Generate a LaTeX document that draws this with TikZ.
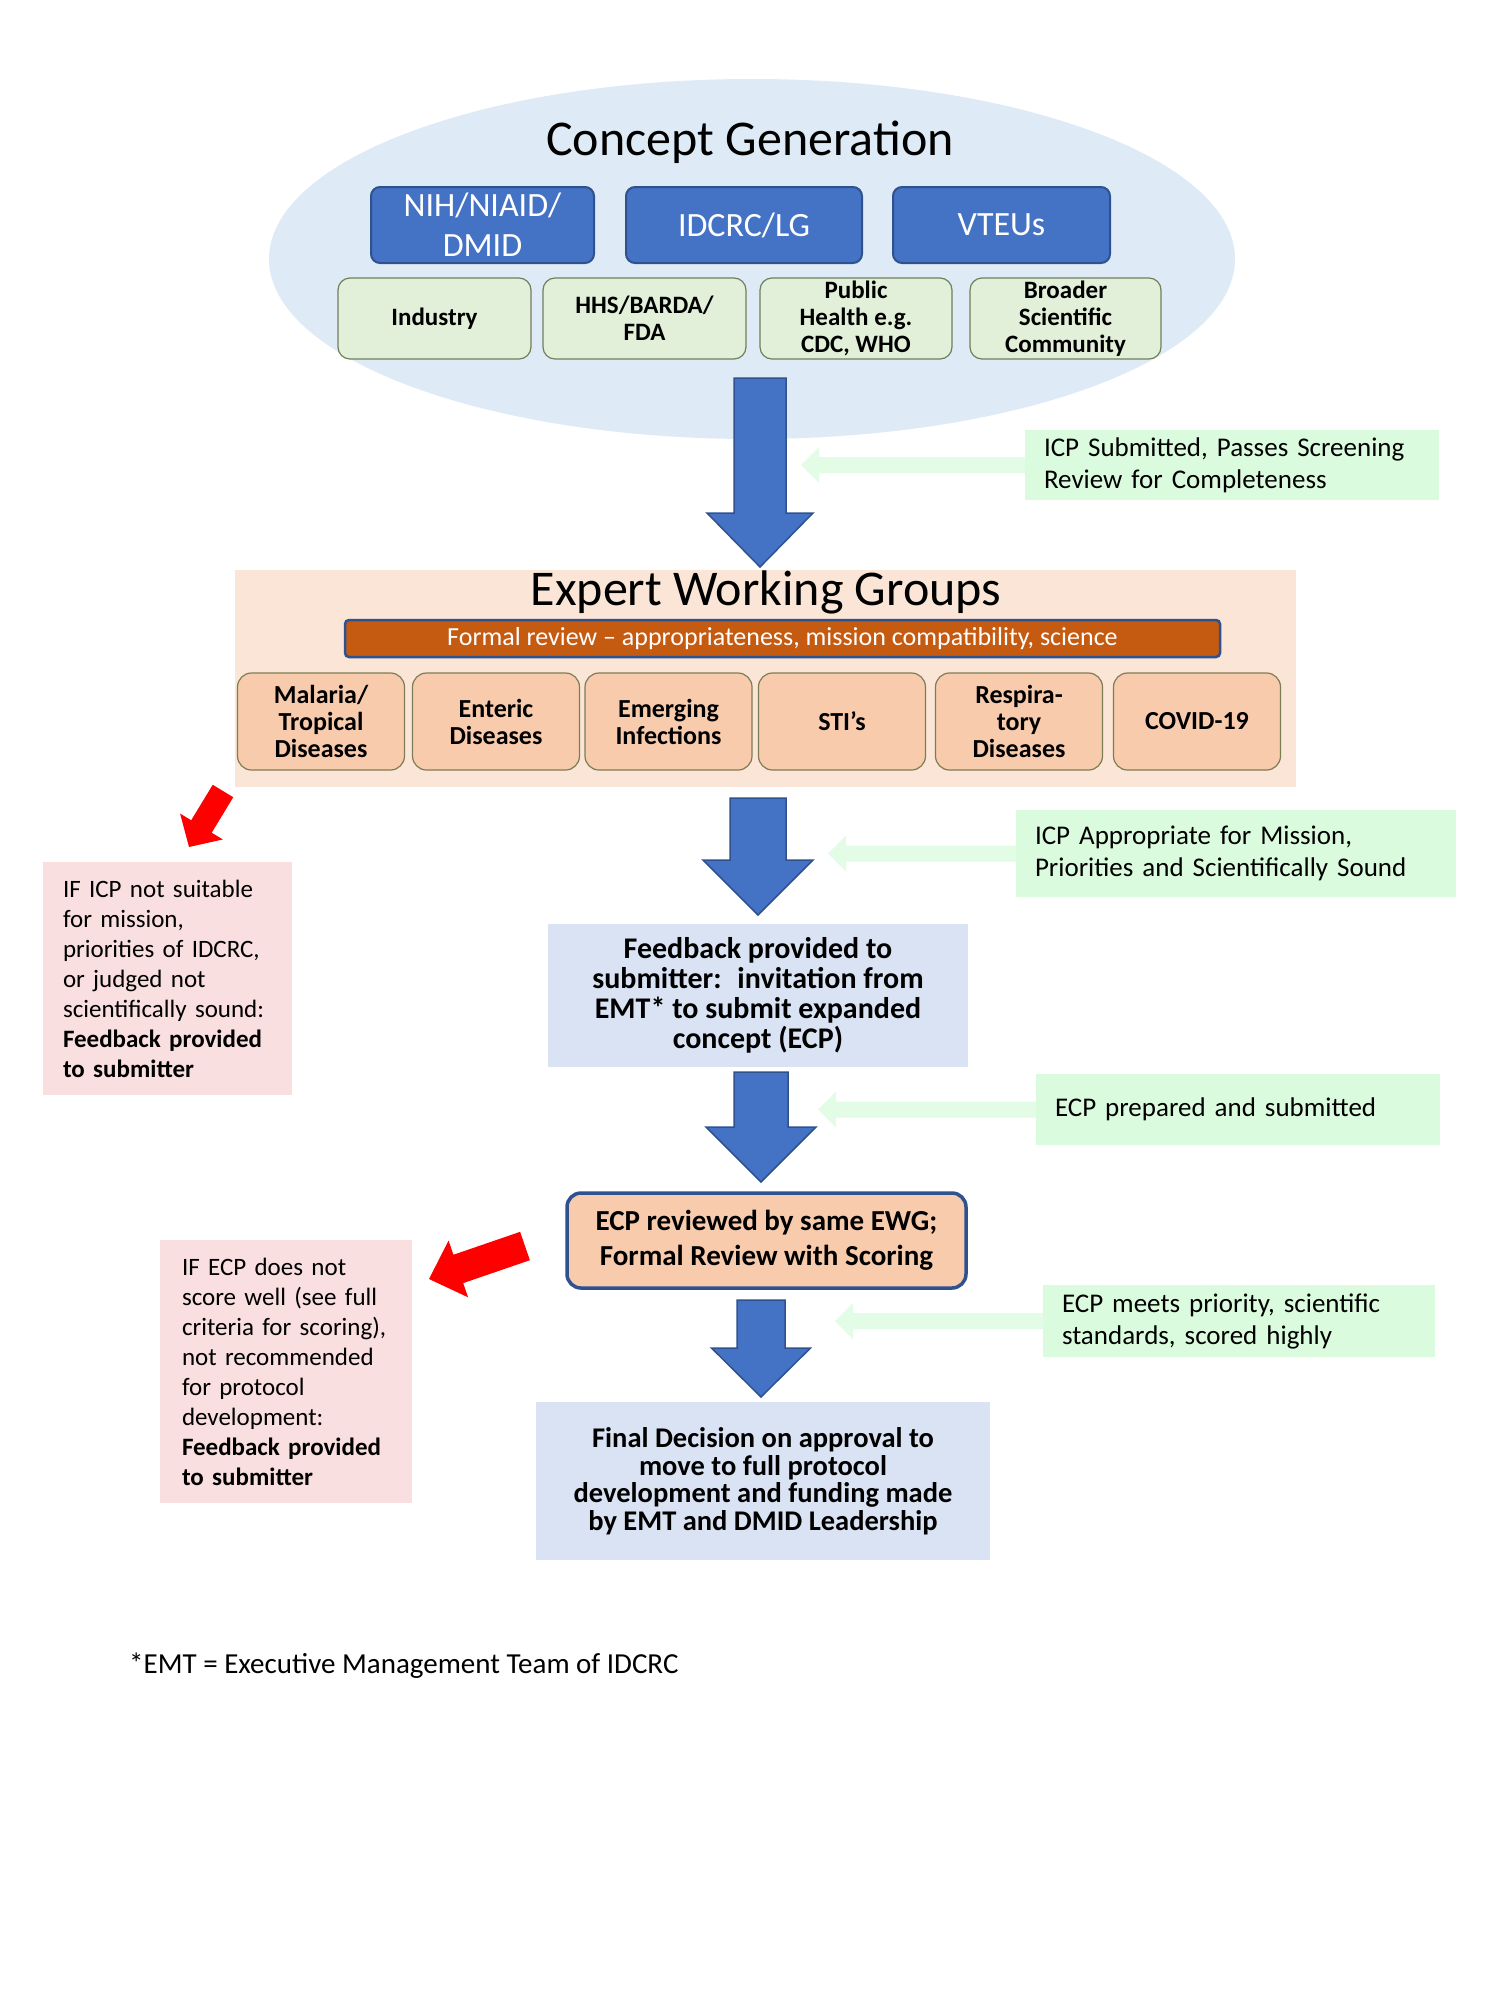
\documentclass[tikz,border=0pt]{standalone}
\usepackage{fontspec}
\setmainfont{Carlito}
\usetikzlibrary{calc,shapes.geometric}
\definecolor{cEll}{HTML}{DEEBF7}
\definecolor{cBlue}{HTML}{4472C4}
\definecolor{cBlueD}{HTML}{2F528F}
\definecolor{cGreen}{HTML}{E2F0D9}
\definecolor{cGreenD}{HTML}{6E7F5A}
\definecolor{cPeachBg}{HTML}{FBE5D6}
\definecolor{cPeach}{HTML}{F8CBAD}
\definecolor{cPeachD}{HTML}{7D7D55}
\definecolor{cOrange}{HTML}{C55A11}
\definecolor{cMint}{HTML}{DBFBDE}
\definecolor{cMintA}{HTML}{E3FCE6}
\definecolor{cPink}{HTML}{F9DFDF}
\definecolor{cLBlue}{HTML}{DAE3F3}
\newcommand{\fatarrow}[6]{%
  \coordinate (fahead) at ($(#3)!#6pt!(#2)$);
  \path[#1] ($(#2)!#4pt!90:(#3)$) -- ($(fahead)!#4pt!90:(#3)$) -- ($(fahead)!#5pt!90:(#3)$) -- (#3)
    -- ($(fahead)!#5pt!-90:(#3)$) -- ($(fahead)!#4pt!-90:(#3)$) -- ($(#2)!#4pt!-90:(#3)$) -- cycle;
}
\tikzset{
  bluebox/.style={rounded corners=9, fill=cBlue, draw=cBlueD, line width=2, text=white, font=\fontsize{34}{40}\selectfont, align=center, inner sep=0},
  greenbox/.style={rounded corners=12, fill=cGreen, draw=cGreenD, line width=1.2, font=\bfseries\fontsize{25}{27}\selectfont, align=center, inner sep=0},
  peachbox/.style={rounded corners=14, fill=cPeach, draw=cPeachD, line width=1.2, font=\bfseries\fontsize{26}{27}\selectfont, align=center, inner sep=0, minimum width=167, minimum height=97},
  mintbox/.style={fill=cMint, inner xsep=19, inner ysep=0, align=left, font=\fontsize{27}{32}\selectfont},
  pinkbox/.style={fill=cPink, inner xsep=20, inner ysep=0, align=left, font=\fontsize{25}{30}\selectfont},
  lbbox/.style={fill=cLBlue, inner sep=0, align=center},
  bigarrow/.style={fill=cBlue, draw=cBlueD, line width=1.5},
  mintarrow/.style={fill=cMintA},
  redarrow/.style={fill=red},
  titletext/.style={font=\fontsize{50}{58}\selectfont, anchor=base, inner sep=0}
}
\begin{document}
\begin{tikzpicture}[x=1pt,y=-1pt]
\useasboundingbox[fill=white] (0,0) rectangle (1500,2000);

% Concept generation
\node[ellipse, fill=cEll, minimum width=966, minimum height=360, inner sep=0] (cg) at (752,259) {};
\node[titletext] (cgt) at (750,155) {Concept Generation};
\node[bluebox, minimum width=223, minimum height=76] (nih) at (482.5,225) {NIH/NIAID/\\DMID};
\node[bluebox, minimum width=236, minimum height=76] (idcrc) at (744,225) {IDCRC/LG};
\node[bluebox, minimum width=217, minimum height=76] (vteu) at (1001.5,225) {VTEUs};
\node[greenbox, minimum width=193, minimum height=81] (ind) at (434.5,318.5) {Industry};
\node[greenbox, minimum width=203, minimum height=81] (hhs) at (644.5,318.5) {HHS/BARDA/\\FDA};
\node[greenbox, minimum width=192, minimum height=81] (ph) at (856,318.5) {Public\\Health e.g.\\CDC, WHO};
\node[greenbox, minimum width=191, minimum height=81] (bsc) at (1065.5,318.5) {Broader\\Scientific\\Community};

% Expert working groups
\node[fill=cPeachBg, minimum width=1061, minimum height=217, inner sep=0] (ewg) at (765.5,678.5) {};
\node[titletext] (ewgt) at (766,605) {Expert Working Groups};
\node[rounded corners=4, fill=cOrange, draw=cBlueD, line width=2.5, text=white, font=\fontsize{26}{30}\selectfont, minimum width=875, minimum height=37, inner sep=0] (fr) at (782.5,638.5) {Formal review – appropriateness, mission compatibility, science};
\node[peachbox] (mal) at (321,721.5) {Malaria/\\Tropical\\Diseases};
\node[peachbox] (ent) at (496,721.5) {Enteric\\Diseases};
\node[peachbox] (emi) at (668.5,721.5) {Emerging\\Infections};
\node[peachbox] (sti) at (842,721.5) {STI’s};
\node[peachbox] (res) at (1019,721.5) {Respira-\\tory\\Diseases};
\node[peachbox] (cov) at (1197,721.5) {COVID-19};

% annotation boxes
\node[mintbox, minimum height=70, text width=376] (gb1) at (1232,465) {ICP Submitted, Passes Screening\\Review for Completeness};
\node[mintbox, minimum height=87, text width=402] (gb2) at (1236,853.5) {ICP Appropriate for Mission,\\Priorities and Scientifically Sound};
\node[mintbox, minimum height=71, text width=366] (gb3) at (1238,1109.5) {ECP prepared and submitted};
\node[mintbox, minimum height=72, text width=354] (gb4) at (1239,1321) {ECP meets priority, scientific\\standards, scored highly};

% pink boxes
\node[pinkbox, minimum height=233, text width=209] (pk1) at (167.5,978.5) {IF ICP not suitable\\for mission,\\priorities of IDCRC,\\or judged not\\scientifically sound:\\\textbf{Feedback provided}\\\textbf{to submitter}};
\node[pinkbox, inner xsep=22, minimum height=263, text width=208] (pk2) at (286,1371.5) {IF ECP does not\\score well (see full\\criteria for scoring),\\not recommended\\for protocol\\development:\\\textbf{Feedback provided}\\\textbf{to submitter}};

% central boxes
\node[lbbox, minimum width=420, minimum height=143, font=\bfseries\fontsize{30}{30}\selectfont] (fb) at (758,995.5) {Feedback provided to\\submitter:~ invitation from\\EMT* to submit expanded\\concept (ECP)};
\node[rounded corners=14, fill=cPeach, draw=cBlueD, line width=3.5, inner sep=0, align=center, font=\bfseries\fontsize{29}{35}\selectfont, minimum width=399, minimum height=95] (ecp) at (766.5,1240.5) {ECP reviewed by same EWG;\\Formal Review with Scoring};
\node[lbbox, minimum width=454, minimum height=158, font=\bfseries\fontsize{28.5}{27.5}\selectfont] (fd) at (763,1481) {Final Decision on approval to\\move to full protocol\\development and funding made\\by EMT and DMID Leadership};

\node[anchor=base west, inner sep=0, font=\fontsize{29}{35}\selectfont] (fn) at (129,1673) {*EMT = Executive Management Team of IDCRC};

% big blue arrows
\coordinate (a1s) at (760,378);  \coordinate (a1e) at (760,567);
\coordinate (a2s) at (758,798);  \coordinate (a2e) at (758,915);
\coordinate (a3s) at (761,1072); \coordinate (a3e) at (761,1182);
\coordinate (a4s) at (761,1300); \coordinate (a4e) at (761,1397);
\fatarrow{bigarrow}{a1s}{a1e}{26}{53}{54}
\fatarrow{bigarrow}{a2s}{a2e}{28}{55}{55}
\fatarrow{bigarrow}{a3s}{a3e}{27}{55}{55}
\fatarrow{bigarrow}{a4s}{a4e}{24}{49.5}{49}

% mint pointers
\coordinate (p1) at (801,465);
\coordinate (p2) at (828,853.5);
\coordinate (p3) at (818,1109.5);
\coordinate (p4) at (835,1321);
\fatarrow{mintarrow}{gb1.west}{p1}{8}{18}{18}
\fatarrow{mintarrow}{gb2.west}{p2}{8}{18}{18}
\fatarrow{mintarrow}{gb3.west}{p3}{8}{18}{18}
\fatarrow{mintarrow}{gb4.west}{p4}{8}{18}{18}

% red arrows
\coordinate (r1s) at (223,791); \coordinate (r1e) at (189,847);
\coordinate (r2s) at (525,1246); \coordinate (r2e) at (429,1279);
\fatarrow{redarrow}{r1s}{r1e}{12}{25}{24}
\fatarrow{redarrow}{r2s}{r2e}{15}{30}{31}
\end{tikzpicture}
\end{document}
